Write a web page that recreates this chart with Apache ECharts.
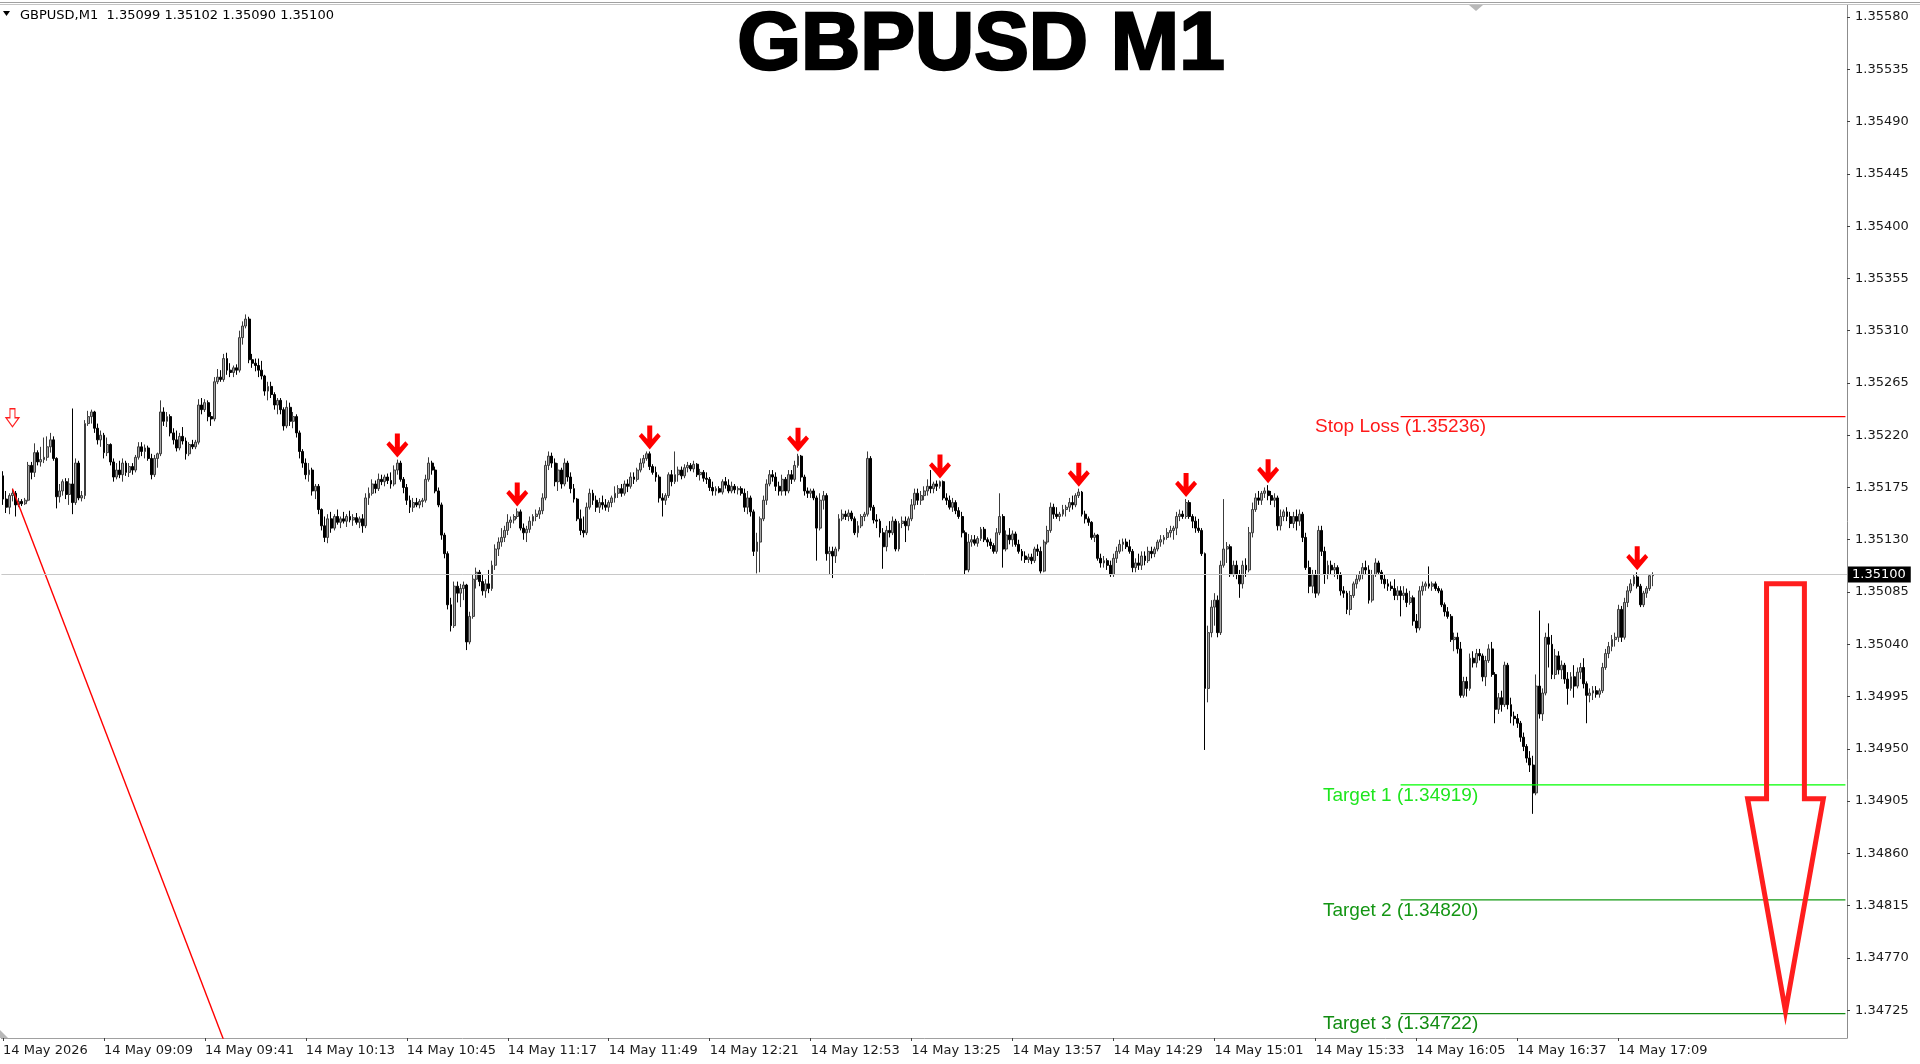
<!DOCTYPE html>
<html><head><meta charset="utf-8">
<script src="https://cdn.jsdelivr.net/npm/echarts@6/dist/echarts.min.js"></script>
<style>html,body{margin:0;padding:0;background:#fff;overflow:hidden}#c{width:1920px;height:1064px}</style>
</head><body><div id="c"></div>
<script>
// ---- data (prices in 1e-5 offsets from 1.35000) ----
const basePrice = 1.35;
const symbolName = 'GBPUSD';
const timeframe = 'M1';
// [open, high, low, close]
const ohlc = [
[185,189,160,165],[165,172,153,158],[158,170,152,168],[168,174,163,170],[170,172,150,160],[160,166,158,163],[163,165,159,161],[161,166,160,164],[164,197,163,194],[194,197,182,188],
[188,213,184,205],[205,207,194,197],[197,210,193,199],[199,218,196,201],[201,219,198,210],[210,222,205,216],[216,219,198,200],[200,201,157,167],[167,178,162,172],[172,182,168,180],
[180,183,165,169],[169,183,160,178],[178,243,152,162],[162,200,160,196],[196,198,164,166],[166,172,163,168],[168,233,165,230],[230,241,228,236],[236,242,230,240],[240,241,222,226],
[226,230,212,216],[216,224,210,220],[220,222,200,205],[205,218,202,212],[212,213,194,197],[197,200,180,184],[184,196,182,190],[190,198,183,186],[186,200,180,196],[196,198,185,188],
[188,196,184,193],[193,196,186,190],[190,203,188,201],[201,214,199,210],[210,214,202,206],[206,212,200,209],[209,211,198,200],[200,204,182,186],[186,203,184,200],[200,205,192,204],
[204,250,202,240],[240,244,228,232],[232,240,227,236],[236,238,219,222],[222,226,212,216],[216,224,206,209],[209,222,207,219],[219,227,212,215],[215,218,199,204],[204,214,202,212],
[212,216,208,210],[210,216,208,214],[214,251,212,246],[246,252,238,242],[242,251,240,248],[248,250,232,236],[236,240,228,234],[234,270,232,266],[266,277,264,270],[270,276,266,268],
[268,290,266,286],[286,291,272,276],[276,282,270,274],[274,280,270,278],[278,281,272,276],[276,310,274,304],[304,318,298,314],[314,324,312,320],[320,322,282,285],[285,290,278,282],
[282,286,275,280],[280,286,270,276],[276,284,268,271],[271,272,254,258],[258,266,250,262],[262,266,252,255],[255,257,242,246],[246,252,238,250],[250,252,238,242],[242,244,224,228],
[228,250,226,244],[244,248,228,232],[232,240,226,236],[236,238,218,222],[222,224,200,206],[206,208,192,196],[196,200,182,186],[186,196,180,190],[190,192,168,172],[172,178,165,176],
[176,178,152,156],[156,157,138,142],[142,150,128,132],[132,152,127,148],[148,154,136,140],[140,152,138,150],[150,156,143,145],[145,150,140,148],[148,154,144,146],[146,152,141,150],
[150,155,145,147],[147,152,142,149],[149,153,143,145],[145,150,140,148],[148,152,136,142],[142,170,140,166],[166,175,160,170],[170,182,168,178],[178,181,170,174],[174,187,172,182],
[182,186,177,180],[180,186,176,184],[184,187,178,181],[181,188,174,178],[178,194,176,190],[190,199,186,196],[196,198,180,182],[182,184,170,175],[175,178,160,164],[164,168,153,158],
[158,166,154,162],[162,166,158,160],[160,165,157,163],[163,166,158,164],[164,186,162,182],[182,201,180,196],[196,198,186,190],[190,193,170,172],[172,175,158,160],[160,162,130,134],
[134,136,114,118],[118,120,70,74],[74,80,51,56],[56,94,54,90],[90,94,76,84],[84,92,72,88],[88,94,78,91],[91,92,35,42],[42,68,40,64],[64,100,62,96],
[96,106,88,102],[102,104,90,94],[94,100,82,86],[86,96,80,92],[92,104,84,88],[88,112,86,108],[108,126,104,122],[122,132,116,128],[128,140,124,132],[132,142,128,138],
[138,152,134,145],[145,150,140,147],[147,152,144,150],[150,157,148,154],[154,156,138,140],[140,144,130,136],[136,142,128,139],[139,150,136,146],[146,152,142,150],[150,156,146,152],
[152,158,148,155],[155,170,152,166],[166,198,164,194],[194,206,190,202],[202,205,192,196],[196,200,176,180],[180,196,172,190],[190,192,174,178],[178,200,176,196],[196,198,180,184],
[184,188,170,174],[174,178,162,165],[165,166,146,148],[148,156,134,138],[138,150,132,136],[136,162,134,158],[158,174,156,170],[170,173,160,164],[164,168,154,158],[158,166,153,162],
[162,168,156,160],[160,165,155,158],[158,164,154,162],[162,168,158,166],[166,176,162,170],[170,177,166,174],[174,178,167,170],[170,181,168,178],[178,182,171,176],[176,188,174,184],
[184,188,178,182],[182,192,180,190],[190,200,188,196],[196,203,192,200],[200,206,198,204],[204,206,190,193],[193,195,186,188],[188,193,180,184],[184,186,162,166],[166,170,150,164],
[164,170,160,168],[168,188,166,186],[186,190,176,180],[180,206,178,186],[186,193,180,190],[190,193,182,185],[185,195,183,192],[192,197,188,194],[194,196,189,191],[191,198,188,195],
[195,196,184,186],[186,191,181,188],[188,190,180,183],[183,188,178,182],[182,184,172,175],[175,180,168,172],[172,176,168,174],[174,176,170,171],[171,182,169,180],[180,184,174,177],
[177,182,170,172],[172,180,170,176],[176,178,170,173],[173,176,169,174],[174,176,168,170],[170,174,154,158],[158,172,152,166],[166,168,150,154],[154,156,116,120],[120,136,101,128],
[128,150,102,148],[148,168,146,164],[164,182,160,178],[178,190,176,186],[186,190,180,184],[184,188,172,176],[176,180,168,172],[172,186,168,182],[182,184,168,172],[172,190,170,186],
[186,190,178,182],[182,198,180,194],[194,204,192,202],[202,203,180,184],[184,186,168,172],[172,175,166,170],[170,174,166,172],[172,174,164,166],[166,168,112,140],[140,170,138,164],
[164,172,156,168],[168,170,112,118],[118,124,100,120],[120,124,97,116],[116,124,110,122],[122,152,120,148],[148,156,146,152],[152,155,147,150],[150,156,146,153],[153,155,146,148],
[148,150,134,136],[136,146,132,142],[142,152,140,150],[150,154,146,152],[152,206,150,200],[200,202,155,158],[158,160,144,147],[147,152,140,146],[146,148,132,136],[136,140,105,124],
[124,142,120,138],[138,146,132,136],[136,150,134,146],[146,148,120,122],[122,146,120,144],[144,150,140,146],[146,150,128,142],[142,150,138,148],[148,165,146,160],[160,174,156,170],
[170,174,160,164],[164,172,160,168],[168,176,164,172],[172,182,168,176],[176,190,170,174],[174,180,170,178],[178,181,172,176],[176,181,174,180],[180,181,164,166],[166,170,160,164],
[164,168,156,158],[158,166,154,162],[162,164,152,155],[155,158,148,150],[150,154,132,136],[136,138,100,104],[104,135,102,128],[128,134,124,130],[130,134,125,127],[127,133,124,131],
[131,141,129,139],[139,141,128,130],[130,132,124,128],[128,131,122,125],[125,127,118,120],[120,140,118,136],[136,170,134,150],[150,152,106,122],[122,138,120,134],[134,140,126,130],
[130,138,124,135],[135,137,124,126],[126,130,118,120],[120,122,112,116],[116,120,110,113],[113,118,110,115],[115,118,109,112],[112,124,110,122],[122,126,116,120],[120,124,101,103],
[103,130,102,128],[128,142,126,138],[138,162,136,158],[158,161,148,152],[152,158,148,150],[150,154,146,152],[152,160,150,156],[156,160,150,158],[158,166,154,162],[162,168,156,160],
[160,170,158,168],[168,174,166,171],[171,172,150,152],[152,155,144,148],[148,150,142,145],[145,146,130,132],[132,136,128,134],[134,135,112,114],[114,118,106,110],[110,116,106,112],
[112,114,104,108],[108,112,98,100],[100,118,98,114],[114,124,110,120],[120,130,118,126],[126,131,120,128],[128,131,122,124],[124,130,118,120],[120,122,102,106],[106,114,102,110],
[110,118,104,108],[108,120,104,116],[116,120,108,112],[112,124,110,120],[120,124,114,118],[118,124,115,122],[122,130,120,128],[128,134,124,130],[130,134,126,132],[132,140,130,136],
[136,142,132,138],[138,142,130,140],[140,154,134,150],[150,156,146,152],[152,155,148,150],[150,165,148,162],[162,164,148,150],[150,152,140,146],[146,150,136,140],[140,148,136,138],
[138,140,116,118],[118,119,-51,2],[2,56,-10,50],[50,78,46,72],[72,84,56,78],[78,82,46,50],[50,112,48,108],[108,165,106,122],[122,128,110,124],[124,126,98,100],
[100,112,98,108],[108,112,96,100],[100,104,80,92],[92,112,88,108],[108,114,98,104],[104,141,102,136],[136,162,132,156],[156,170,154,166],[166,172,160,164],[164,172,160,170],
[170,175,166,172],[172,177,164,168],[168,172,160,164],[164,170,158,166],[166,168,138,142],[142,156,138,150],[150,156,146,154],[154,158,146,150],[150,154,140,144],[144,154,140,150],
[150,156,138,146],[146,156,142,152],[152,154,128,132],[132,136,104,106],[106,112,84,90],[90,104,84,100],[100,104,80,84],[84,142,82,138],[138,142,116,120],[120,124,92,100],
[100,112,96,108],[108,112,100,104],[104,110,98,106],[106,108,96,100],[100,102,82,86],[86,90,80,84],[84,86,66,70],[70,86,65,82],[82,94,80,92],[92,100,88,96],
[96,103,94,100],[100,110,96,106],[106,112,100,104],[104,108,75,78],[78,104,76,100],[100,114,98,110],[110,112,100,102],[102,104,92,96],[96,100,88,92],[92,96,86,90],
[90,94,86,88],[88,96,78,82],[82,90,78,86],[86,90,64,82],[82,90,78,84],[84,88,72,76],[76,86,74,80],[80,82,56,60],[60,66,50,54],[54,90,52,86],
[86,94,82,90],[90,94,86,92],[92,107,88,90],[90,94,86,92],[92,94,86,88],[88,90,84,86],[86,88,72,74],[74,76,64,68],[68,72,62,64],[64,66,42,44],
[44,50,34,46],[46,50,32,36],[36,42,-6,-4],[-4,12,-6,8],[8,12,-5,2],[2,32,0,28],[28,34,20,24],[24,36,20,32],[32,36,26,30],[30,32,8,12],
[12,30,4,26],[26,40,24,36],[36,42,12,14],[14,16,-28,-16],[-16,-2,-20,-6],[-6,0,-18,-12],[-12,25,-14,22],[22,24,-16,-12],[-12,-6,-28,-22],[-22,-18,-30,-24],
[-24,-20,-32,-28],[-28,-26,-44,-40],[-40,-36,-52,-48],[-48,-46,-62,-58],[-58,-52,-70,-64],[-64,-56,-106,-88],[-88,14,-90,4],[4,69,-24,-20],[-20,2,-26,-2],[-2,50,-4,46],
[46,58,20,40],[40,48,10,14],[14,36,10,30],[30,34,14,18],[18,26,10,22],[22,24,6,10],[10,16,-12,2],[2,16,0,12],[12,22,-6,4],[4,20,2,16],
[16,24,10,20],[20,28,2,6],[6,8,-28,-4],[-4,2,-10,-2],[-2,4,-8,0],[0,4,-6,-3],[-3,2,-6,0],[0,24,-2,20],[20,36,18,32],[32,42,28,38],
[38,48,34,44],[44,50,38,46],[46,74,42,70],[70,73,42,46],[46,80,44,76],[76,90,72,86],[86,96,84,92],[92,100,90,98],[98,102,88,90],[90,92,72,74],
[74,86,72,84],[84,90,80,88],[88,100,86,99],[99,102,90,100]
];
const startMinute = 8*60 + 37;      // first bar 08:37
const totalSlots = 585;             // bars + right shift space
const timeTicks = ['14 May 2026','14 May 09:09','14 May 09:41','14 May 10:13','14 May 10:45','14 May 11:17','14 May 11:49','14 May 12:21','14 May 12:53','14 May 13:25','14 May 13:57','14 May 14:29','14 May 15:01','14 May 15:33','14 May 16:05','14 May 16:37','14 May 17:09'];
const tickEvery = 32;
const priceTicks = ['1.34725','1.34770','1.34815','1.34860','1.34905','1.34950','1.34995','1.35040','1.35085','1.35130','1.35175','1.35220','1.35265','1.35310','1.35355','1.35400','1.35445','1.35490','1.35535','1.35580'];
const yMin = 1.347010, yMax = 1.355904;
const currentPrice = 1.35100;
// signal arrows (bar index, high offset)
const sellArrowBars = [125,163,205,252,297,341,375,401,518];
const sellArrowHighs = [199,157,206,204,181,174,165,177,102];
const entryArrowBar = 3, entryArrowPrice = 1.35235;
// trend line from first-bar high
const trendBars = [3, 90];
const trendPrices = [1.35174, 1.34557];
// level lines
const levelNames = ['Stop Loss','Target 1','Target 2','Target 3'];
const levelPrices = [1.35236, 1.34919, 1.34820, 1.34722];
const levelColors = ['#ff0000','#00ff00','#139a13','#138a13'];
const levelTextColors = ['#ff1a1a','#1ee61e','#149614','#128c12'];
const levelStartBar = 443, levelEndBar = 584;
// big forecast arrow outline (bar index, price)
const bigArrowBars = [558.8,571.2,571.2,577.4,565.0,553.0,558.8];
const bigArrowPrices = [1.35092,1.35092,1.34907,1.34907,1.34724,1.34907,1.34907];

// ---- build ----
const toPrice = p => +(basePrice + p/1e5).toFixed(5);
const categories = Array.from({length: totalSlots}, (_, i) => {
  const m = startMinute + i;
  return String(Math.floor(m/60)).padStart(2,'0') + ':' + String(m%60).padStart(2,'0');
});
const candleData = ohlc.map(b => [toPrice(b[0]), toPrice(b[3]), toPrice(b[2]), toPrice(b[1])]);
const showTick = (i) => i % tickEvery === 0 && (i / tickEvery) < timeTicks.length;
const last = ohlc[ohlc.length-1].map(toPrice);

const chart = echarts.init(document.getElementById('c'), null, {renderer: 'canvas'});
const axisFont = {fontFamily: 'DejaVu Sans', fontSize: 13, color: '#1a1a1a'};

const series = [
  {
    type: 'candlestick', data: candleData, barWidth: 2.4, large: false, progressive: 0,
    itemStyle: {color: '#a6a6a6', color0: '#000000', borderColor: '#3c3c3c', borderColor0: '#000000', borderWidth: 1},
    markLine: {
      symbol: 'none', silent: true, animation: false, precision: 5,
      lineStyle: {color: '#c8c8c8', width: 1, type: 'solid'},
      label: {show: true, position: 'end', distance: 1, formatter: currentPrice.toFixed(5),
        backgroundColor: '#000', color: '#fff', fontFamily: 'DejaVu Sans', fontSize: 13, padding: [2,5,1,4]},
      data: [{yAxis: currentPrice}]
    },
    z: 3
  },
  {
    type: 'line', data: trendBars.map((b,k)=>[b, trendPrices[k]]), showSymbol: false, symbol: 'none',
    lineStyle: {color: '#ff0000', width: 1.4}, clip: true, z: 4
  },
  ...levelPrices.map((p,k) => ({
    type: 'line', data: [[levelStartBar, p],[levelEndBar, p]], showSymbol: false, symbol: 'none',
    lineStyle: {color: levelColors[k], width: 1.3}, z: 4
  })),
  {
    type: 'scatter', data: sellArrowBars.map((b,k)=>[b, toPrice(sellArrowHighs[k])]),
    symbol: 'path://M8.5,0 L13.5,0 L13.5,12.5 L19,7 L22,10 L11,22 L0,10 L3,7 L8.5,12.5 Z',
    symbolSize: [22, 24], symbolOffset: [0, -14], itemStyle: {color: '#ff0000', opacity: 1}, z: 5
  },
  {
    type: 'scatter', data: [[entryArrowBar, entryArrowPrice]],
    symbol: 'path://M4,0 L9,0 L9,8 L13,8 L6.5,16 L0,8 L4,8 Z',
    symbolSize: [13, 18], itemStyle: {color: '#ffffff', borderColor: '#ff2020', borderWidth: 1.2, opacity: 1}, z: 5
  },
  {
    type: 'custom', data: [[bigArrowBars[4], bigArrowPrices[4]]], clip: false, z: 6,
    renderItem: (params, api) => {
      const pts = bigArrowBars.map((b,k) => api.coord([b, bigArrowPrices[k]]));
      return {type: 'polygon', shape: {points: pts},
        style: {fill: 'none', stroke: '#ff1e1e', lineWidth: 5, lineJoin: 'miter'}};
    }
  }
];

chart.setOption({
  animation: false,
  backgroundColor: '#ffffff',
  grid: {left: -2, right: 73, top: 5, bottom: 26, containLabel: false},
  xAxis: {
    type: 'category', data: categories, boundaryGap: true,
    axisLine: {show: true, lineStyle: {color: '#a0a0a0', width: 1}},
    axisTick: {show: true, alignWithLabel: true, interval: showTick, length: 3, lineStyle: {color: '#404040'}},
    axisLabel: Object.assign({show: true, interval: showTick, align: 'left', margin: 6,
      formatter: (v, i) => timeTicks[i / tickEvery]}, axisFont),
    splitLine: {show: false}
  },
  yAxis: {
    type: 'value', position: 'right', min: yMin, max: yMax, scale: true,
    splitLine: {show: false},
    axisLine: {show: true, lineStyle: {color: '#8c8c8c', width: 1}},
    axisTick: {show: true, length: 3, customValues: priceTicks.map(Number), lineStyle: {color: '#404040'}},
    axisLabel: Object.assign({show: true, margin: 8, customValues: priceTicks.map(Number),
      formatter: v => v.toFixed(5)}, axisFont)
  },
  series: series
});

// text labels for levels, positioned through the chart's scales
const graphics = [
  {type: 'line', shape: {x1: 0, y1: 2.5, x2: 1920, y2: 2.5}, style: {stroke: '#a0a0a0', lineWidth: 1}, z: 10},
  {type: 'line', shape: {x1: 0, y1: 4.5, x2: 1920, y2: 4.5}, style: {stroke: '#c4c4c4', lineWidth: 1}, z: 10},
  {type: 'polygon', shape: {points: [[1469,5],[1483,5],[1476,11]]}, style: {fill: '#b8b8b8'}, z: 10},
  {type: 'polygon', shape: {points: [[0,1030],[0,1038],[8,1038]]}, style: {fill: '#b8b8b8'}, z: 10},
  {type: 'polygon', shape: {points: [[3,11],[10,11],[6.5,16]]}, style: {fill: '#000'}, z: 10},
  {type: 'text', x: 20, y: 16, style: {text: symbolName + ',' + timeframe + '  ' + last.map(v => v.toFixed(5)).join(' '),
    font: '13px "DejaVu Sans"', fill: '#000', textVerticalAlign: 'middle'}, z: 10},
  {type: 'text', x: 981, y: 46, style: {text: symbolName + ' ' + timeframe, font: 'bold 82px "Liberation Sans"',
    fill: '#000', stroke: '#000', lineWidth: 2.5, textAlign: 'center', textVerticalAlign: 'middle'}, z: 10}
];
levelPrices.forEach((p, k) => {
  const pt = chart.convertToPixel({xAxisIndex: 0, yAxisIndex: 0}, [levelStartBar, p]);
  graphics.push({type: 'text', x: pt[0], y: pt[1] + 1,
    style: {text: levelNames[k] + ' (' + p.toFixed(5) + ')', font: '19px "Liberation Sans"',
      fill: levelTextColors[k], textAlign: 'center', textVerticalAlign: 'top'}, z: 10});
});
chart.setOption({graphic: graphics});
</script></body></html>
